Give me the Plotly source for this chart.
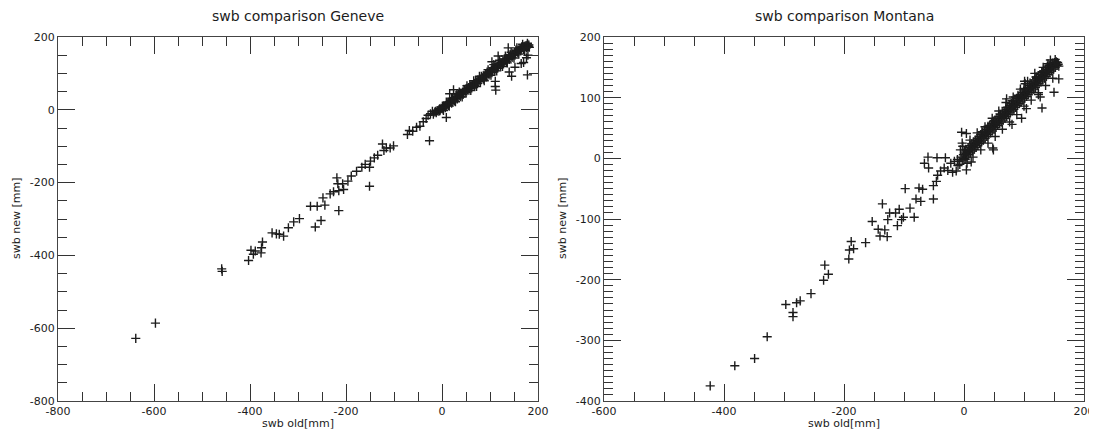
import plotly.graph_objects as go

# ---------------- data: Geneve ----------------
geneve_sparse_x = [-638, -597, -459, -458, -403, -398, -393, -389, -376, -374, -377, -354, -345, -339,
                   -330, -320, -309, -297, -274, -264, -260, -252, -248, -244, -233, -226, -219, -217,
                   -215, -215, -207, -205, -196, -189, -178, -167, -160, -151, -151, -149, -141, -134,
                   -124, -121, -116, -108, -101, -72, -68, -61, -53, -46, -39, -33, -29, -24, -20, -26,
                   -13, -5, 2, 9, 24, 16, 31,
                   111, 111, 112, 140, 145, 152, 165, 170, 176, 178, 179, 104, 117, 138]
geneve_sparse_y = [-628, -586, -437, -444, -414, -386, -397, -388, -379, -363, -393, -338, -341, -342,
                   -347, -324, -308, -299, -265, -322, -265, -304, -242, -262, -231, -225, -187, -203,
                   -222, -277, -203, -219, -196, -182, -169, -158, -150, -158, -210, -141, -132, -125,
                   -94, -112, -105, -105, -99, -68, -57, -59, -48, -45, -33, -24, -15, -11, -4, -85,
                   -4, 3, 7, -21, 55, 44, 44,
                   78, 64, 54, 104, 92, 117, 127, 130, 143, 96, 150, 132, 148, 170]

geneve_band_x = [-18, -15, -12, -10, -8, -6, -4, -2, 0, 1, 3, 4, 6, 8, 10, 12, 13, 15, 17, 19, 21, 23,
                 25, 27, 29, 31, 33, 35, 37, 39, 41, 43, 45, 47, 49, 51, 53, 55, 57, 59, 61, 63, 65,
                 67, 69, 71, 73, 75, 77, 79, 81, 83, 85, 87, 89, 91, 93, 95, 97, 99, 101, 103, 105,
                 107, 109, 111, 113, 115, 117, 119, 121, 123, 125, 127, 129, 131, 133, 135, 137, 139,
                 141, 143, 145, 147, 149, 151, 153, 155, 157, 159, 161, 163, 165, 167, 169, 171, 173,
                 175, 177, 179, 181,
                 -5, 2, 7, 14, 20, 26, 32, 38, 44, 50, 56, 62, 68, 74, 80, 86, 92, 98, 104, 110, 116,
                 122, 128, 134, 140, 146, 152, 158, 164, 170, 176, 180,
                 10, 22, 34, 46, 58, 70, 82, 94, 106, 118, 130, 142, 154, 166,
                 3, 9, 15, 20, 28, 36, 42, 52, 60, 66, 72, 78, 88, 96, 102, 108, 114, 120, 126, 132,
                 136, 144, 150, 156, 160, 168, 172, 178, 182]
geneve_band_y = [-12, -6, -8, -2, -4, 1, -1, 4, 3, 8, 6, 11, 9, 12, 14, 16, 20, 18, 23, 22, 27, 26,
                 30, 33, 32, 37, 36, 41, 40, 45, 44, 49, 48, 53, 52, 57, 56, 61, 60, 65, 64, 69, 68,
                 73, 72, 77, 76, 81, 80, 85, 84, 89, 88, 93, 92, 97, 96, 101, 100, 105, 104, 109, 108,
                 113, 112, 117, 116, 121, 120, 125, 124, 129, 128, 133, 132, 137, 136, 141, 140, 145,
                 144, 149, 148, 153, 152, 157, 156, 161, 160, 164, 165, 168, 169, 171, 172, 174, 175,
                 176, 177, 178, 178,
                 -3, 2, 6, 12, 18, 24, 30, 36, 42, 48, 54, 60, 66, 72, 78, 84, 90, 96, 102, 108, 114,
                 120, 126, 132, 138, 144, 150, 156, 162, 166, 170, 174,
                 19, 31, 44, 56, 68, 80, 92, 104, 116, 128, 140, 152, 164, 173,
                 -2, 21, 10, 32, 22, 49, 35, 66, 53, 80, 64, 92, 80, 110, 95, 124, 107, 136, 119, 148,
                 129, 158, 142, 170, 153, 180, 163, 183, 172]

# ---------------- data: Montana ----------------
montana_sparse_x = [-423, -382, -349, -328, -297, -285, -285, -279, -273, -255, -234, -232, -226, -192,
                    -191, -188, -184, -164, -153, -143, -140, -136, -132, -128, -127, -124, -114, -111,
                    -108, -104, -101, -98, -90, -83, -80, -75, -72, -69, -66, -60, -59, -51, -51, -46,
                    -44, -39, -45, -31, -22, -16, -11, -33, -27, -19, -13, -7, 2, 4, -4, 4, -2, 2,
                    48, 96, 130, 150, 158, 124, 101, 71, 139, 127, 104, 80, 49, 102, 121, 140]
montana_sparse_y = [-375, -342, -330, -294, -241, -254, -261, -238, -235, -223, -201, -176, -191, -166,
                    -151, -137, -149, -139, -104, -117, -128, -75, -118, -129, -101, -90, -90, -111,
                    -84, -101, -97, -50, -82, -97, -67, -49, -71, -51, -8, 2, -16, -45, -67, -38,
                    -28, -21, 1, 1, -8, -5, -2, -16, -20, -23, -21, -10, -2, -19, 43, 41, 20, 9,
                    17, 66, 83, 109, 131, 105, 127, 98, 152, 101, 82, 56, 14, 123, 134, 156]

montana_band_x = [-8, -5, -3, -1, 0, 1, 2, 3, 4, 5, 6, 7, 8, 9, 10, 11, 12, 13, 14, 15, 16, 17, 18, 19,
                  20, 21, 22, 23, 24, 25, 26, 27, 28, 29, 30, 31, 32, 33, 34, 35, 36, 37, 38, 39, 40,
                  41, 42, 43, 44, 45, 46, 47, 48, 49, 50, 51, 52, 53, 54, 55, 56, 57, 58, 59, 60, 61,
                  62, 63, 64, 65, 66, 67, 68, 69, 70, 71, 72, 73, 74, 75, 76, 77, 78, 79, 80, 81, 82,
                  83, 84, 85, 86, 87, 88, 89, 90, 91, 92, 93, 94, 95, 96, 97, 98, 99, 100, 101, 102,
                  103, 104, 105, 106, 107, 108, 109, 110, 111, 112, 113, 114, 115, 116, 117, 118, 119,
                  120, 121, 122, 123, 124, 125, 126, 127, 128, 129, 130, 131, 132, 133, 134, 135, 136,
                  137, 138, 139, 140, 141, 142, 143, 144, 145, 146, 147, 148, 149, 150, 151, 152, 153,
                  154, 155, 156, 157, 158,
                  30, 40, 50, 60, 70, 80, 90, 100, 110, 120, 130,
                  5, 10, 15, 22, 28, 35, 40, 47, 52, 58, 64, 70, 76, 82, 88, 94, 100, 106, 112, 118,
                  124, 132, 136, 144, 148, 152, -6, -10, 12, -3]
montana_band_y = [-5, 2, -3, 6, 0, 12, 4, 15, 8, 2, 11, 18, 6, 14, 21, 9, 17, 24, 12, 20, 27, 15, 23, 30,
                  18, 26, 33, 21, 29, 36, 24, 32, 39, 27, 35, 42, 30, 38, 45, 33, 41, 48, 36, 44, 51,
                  39, 47, 54, 42, 50, 57, 45, 53, 60, 48, 56, 63, 51, 59, 66, 54, 62, 69, 57, 65, 72,
                  60, 68, 75, 63, 71, 78, 66, 74, 81, 69, 77, 84, 72, 80, 87, 75, 83, 90, 78, 86, 93,
                  81, 89, 96, 84, 92, 99, 87, 95, 102, 90, 98, 105, 93, 101, 108, 96, 104, 111, 99, 107,
                  114, 102, 110, 117, 105, 113, 120, 108, 116, 123, 111, 119, 126, 114, 122, 129, 117,
                  125, 132, 120, 128, 135, 123, 131, 138, 126, 134, 141, 129, 137, 144, 132, 140, 147,
                  135, 143, 150, 138, 146, 153, 141, 149, 155, 144, 152, 157, 147, 154, 158, 150, 156,
                  159, 153, 158, 155, 152,
                  44, 53, 62, 73, 84, 95, 104, 115, 124, 134, 143,
                  -8, 30, 2, 42, 14, 52, 25, 66, 36, 78, 48, 92, 60, 101, 72, 114, 86, 127, 96, 140,
                  108, 150, 120, 162, 132, 163, 14, -12, -6, 25]

# ---------------- tick labels ----------------
geneve_x_ticks = [-800, -600, -400, -200, 0, 200]
geneve_y_ticks = [-800, -600, -400, -200, 0, 200]
montana_x_ticks = [-600, -400, -200, 0, 200]
montana_y_ticks = [-400, -300, -200, -100, 0, 100, 200]

titles = ["swb comparison Geneve", "swb comparison Montana"]
x_label = "swb old[mm]"
y_label = "swb new [mm]"

FONT = "DejaVu Sans"
INK = "#1c1c1c"
W, H = 1097, 430
OFF = 8  # page body margin of the html document


def px_x(sx):
    return (sx - OFF) / W


def px_y(sy):
    return 1 - (sy - OFF) / H


marker = dict(symbol="cross-thin", size=6.5, color=INK, line=dict(width=1.4, color=INK))

fig = go.Figure()
fig.add_trace(go.Scatter(x=geneve_band_x + geneve_sparse_x, y=geneve_band_y + geneve_sparse_y,
                         mode="markers", marker=marker, xaxis="x", yaxis="y", showlegend=False))
fig.add_trace(go.Scatter(x=montana_band_x + montana_sparse_x, y=montana_band_y + montana_sparse_y,
                         mode="markers", marker=marker, xaxis="x2", yaxis="y2", showlegend=False))

left_dom = [px_x(58), px_x(538)]
right_dom = [px_x(604), px_x(1084)]
y_dom = [px_y(401), px_y(37)]


def axis(rng, ticks, mdtick, dom, anchor):
    return dict(range=rng, tickmode="array", tickvals=ticks, ticktext=[str(t) for t in ticks],
                domain=dom, anchor=anchor, automargin=False,
                showgrid=False, zeroline=False, showline=True, linecolor="#444444", linewidth=1,
                mirror="allticks", ticks="inside", ticklen=17, tickwidth=1, tickcolor="#333333",
                tickfont=dict(family=FONT, size=11, color=INK),
                minor=dict(tickmode="linear", dtick=mdtick, tick0=0, ticks="inside", ticklen=9,
                           tickwidth=1, tickcolor="#333333", showgrid=False))


fig.update_layout(
    template="none",
    width=W, height=H,
    margin=dict(l=0, r=0, t=0, b=0),
    paper_bgcolor="white", plot_bgcolor="white",
    font=dict(family=FONT, size=11, color=INK),
    xaxis=axis([-800, 200], geneve_x_ticks, 50, left_dom, "y"),
    yaxis=axis([-800, 200], geneve_y_ticks, 50, y_dom, "x"),
    xaxis2=axis([-600, 200], montana_x_ticks, 50, right_dom, "y2"),
    yaxis2=axis([-400, 200], montana_y_ticks, 10, y_dom, "x2"),
)

ann = []
for i, (a, b) in enumerate([(58, 538), (604, 1084)]):
    cx = px_x((a + b) / 2)
    ann.append(dict(text=titles[i], x=cx, y=px_y(16), xref="paper", yref="paper",
                    xanchor="center", yanchor="middle", showarrow=False,
                    font=dict(family=FONT, size=14, color=INK)))
    ann.append(dict(text=x_label, x=cx, y=px_y(423), xref="paper", yref="paper",
                    xanchor="center", yanchor="middle", showarrow=False,
                    font=dict(family=FONT, size=11, color=INK)))
    ann.append(dict(text=y_label, x=px_x(a - 42), y=px_y(219),
                    xref="paper", yref="paper", textangle=-90,
                    xanchor="center", yanchor="middle", showarrow=False,
                    font=dict(family=FONT, size=11, color=INK)))
fig.update_layout(annotations=ann)

fig.write_html("out.html")
